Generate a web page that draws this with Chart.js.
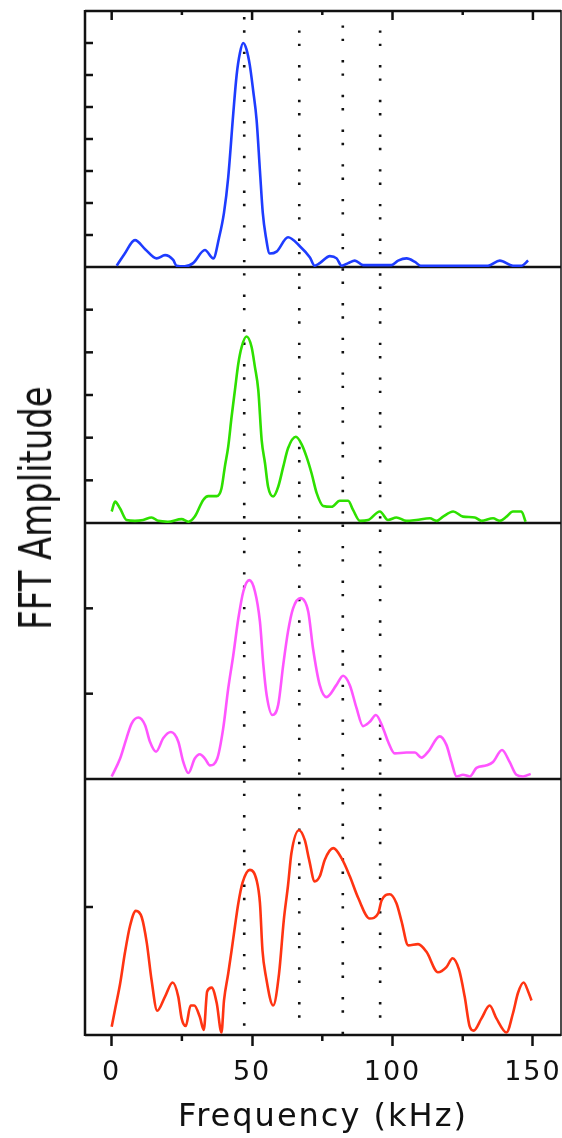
<!DOCTYPE html>
<html>
<head>
<meta charset="utf-8">
<title>FFT Amplitude</title>
<script src="https://cdn.jsdelivr.net/npm/chart.js@4.4.1/dist/chart.umd.min.js"></script>
<style>
body{margin:0;background:#fff}
#wrap{position:relative;width:562px;height:1138px}
#yTitle{position:absolute;left:36px;top:508px;transform:translate(-50%,-50%) rotate(-90deg) scaleX(0.77);font-family:"DejaVu Sans";font-size:44px;line-height:1;color:#111;white-space:nowrap}
</style>
</head>
<body>
<div id="wrap">
<canvas id="fftChart" width="562" height="1138"></canvas>
<div id="yTitle">FFT Amplitude</div>
</div>
<script>
// frequencies in kHz, amplitudes in each panel's own units
const blueFreq=[1.8,4.5,8.3,12,16,19,21.9,23.1,26,29,33.2,36.2,38.2,40,41.5,43.3,44.5,45.7,46.8,48,49.2,50.4,51.6,52.8,53.8,54.8,56.3,58.7,62.8,67,70.6,72.3,74.1,77.7,80.1,81.9,84.2,86.6,89.5,94,99.6,102,105,108,110,116,122,128,134,138.2,142.9,146,148.3]
const blueAmp=[0.04,0.4,0.84,0.55,0.27,0.37,0.22,0.04,0.02,0.12,0.53,0.27,0.9,1.7,2.8,4.8,6.0,6.7,7.0,6.8,6.3,5.5,4.6,3.0,1.7,1.0,0.42,0.48,0.93,0.65,0.3,0.04,0.12,0.34,0.27,0.04,0.12,0.2,0.06,0.06,0.06,0.2,0.27,0.16,0.04,0.04,0.04,0.04,0.04,0.2,0.04,0.04,0.2]

const greenFreq=[0,1.2,3,5.3,8.3,11.2,14.2,16.6,20,24.9,27.3,29.6,32.6,34.4,37.4,39.1,40.3,41.5,42.7,43.9,45.1,46.3,48,49.8,51,52.2,53.4,54.6,55.7,57.5,59.3,61.1,62.8,65.6,67.6,69.4,71.2,73,75.3,78.3,81.2,84.2,86,88.4,91.3,95.5,98.4,101.4,105,108.5,113.3,115.7,118,121.6,125.1,129.3,131.7,135.8,138.2,140.6,142.9,145.9,147.4]
const greenAmp=[0.27,0.5,0.34,0.07,0.05,0.07,0.13,0.05,0.03,0.09,0.03,0.15,0.54,0.63,0.63,0.81,1.32,1.79,2.49,3.12,3.74,4.13,4.37,4.13,3.66,3.12,1.95,1.4,0.85,0.62,0.85,1.32,1.75,2.02,1.85,1.55,1.16,0.7,0.4,0.38,0.52,0.52,0.3,0.05,0.07,0.27,0.07,0.13,0.05,0.07,0.11,0.05,0.15,0.27,0.15,0.13,0.05,0.11,0.05,0.15,0.27,0.27,0.03]

const magentaFreq=[0,3,5.3,7.1,9.5,11.9,13.6,15.8,18.4,21.1,23.7,25.5,27.3,29.6,31.4,33.2,35,37.6,39.7,41.5,43.3,45.1,46.9,49,51,52.8,54,55.2,57.2,59.3,61.1,62.8,64.6,67.3,70,71.7,74.1,76.5,80,82.4,84.8,87.2,89.5,91.9,94.1,96.7,98.4,100.8,105,108,110.3,112.7,116.8,119.2,121,122.8,125.1,127.5,129.9,133.5,135.8,139,141.7,144.1,146.5,149.2]
const magentaAmp=[0.03,0.24,0.48,0.65,0.72,0.63,0.44,0.32,0.48,0.55,0.44,0.2,0.07,0.24,0.29,0.24,0.16,0.24,0.59,1.06,1.45,1.88,2.2,2.33,2.2,1.84,1.34,0.98,0.75,0.87,1.34,1.73,2.0,2.12,1.96,1.53,1.1,0.96,1.1,1.21,1.1,0.83,0.62,0.67,0.75,0.59,0.44,0.3,0.31,0.31,0.25,0.32,0.5,0.4,0.2,0.03,0.05,0.03,0.13,0.16,0.2,0.34,0.2,0.05,0.03,0.06]

const redFreq=[0,1.2,3,4.7,6.5,8.6,10.7,12.5,14.2,16.2,19,21.7,23.7,24.9,26.4,28.1,29.4,31.4,32.8,34,35.6,37.4,39.1,40,41.5,42.7,43.9,45.1,46.6,49.2,51.6,52.8,53.7,54.9,57.5,59.6,61.3,62.8,64,66.7,68.8,70.3,72.3,74.1,75.9,78.9,81.9,84.8,87.8,91.9,94.9,96.1,99,101.4,103.2,105.6,109.1,112.1,116.2,119.2,121.4,123.7,125.7,127.5,128.9,131.7,134.6,137,140.6,142.9,144.7,146.7,148.3,149.5]
const redAmp=[0.065,0.2,0.4,0.64,0.85,0.97,0.92,0.72,0.43,0.19,0.3,0.41,0.3,0.13,0.07,0.23,0.23,0.14,0.04,0.34,0.37,0.25,0.02,0.27,0.48,0.66,0.85,1.03,1.19,1.29,1.21,1.03,0.66,0.46,0.23,0.48,0.9,1.17,1.42,1.6,1.52,1.37,1.2,1.24,1.37,1.46,1.38,1.24,1.07,0.91,0.95,1.05,1.1,1.03,0.89,0.7,0.71,0.65,0.49,0.53,0.6,0.51,0.3,0.065,0.034,0.13,0.23,0.13,0.02,0.17,0.33,0.41,0.34,0.27]

const markerFreqs=[47.2,66.8,82.3,95.6]
const xTickLabels=[0,50,100,150]
const panelMax=[8,6,3,2]

// styles
const panelIds=["y1","y2","y3","y4"]
const lineColors=["#1e3cff","#2ee000","#ff55ff","#ff3412"]
const markerPhase=[4,17.4,12.4,17.4]
const ink="#111"

function pts(f,a){
return f.map((x,i)=>({x:x,y:a[i]}))
}

function seg(ctx,x1,y1,x2,y2){
ctx.beginPath()
ctx.moveTo(x1,y1)
ctx.lineTo(x2,y2)
ctx.stroke()
}

// frame, panel separators and the inward tick marks
const framePlugin={
id:"frame",
beforeDraw(chart){
chart.ctx.letterSpacing="2px"
},
beforeDatasetsDraw(chart){
const ctx=chart.ctx
const a=chart.chartArea
const xs=chart.scales.x
ctx.save()
ctx.strokeStyle=ink
ctx.lineWidth=2.5
panelIds.forEach(id=>{
const s=chart.scales[id]
seg(ctx,a.left,s.top,a.right,s.top)
s.ticks.forEach(t=>{
if(t.value<=s.min||t.value>=s.max) return
const y=s.getPixelForValue(t.value)
seg(ctx,a.left,y,a.left+8,y)
})
})
seg(ctx,a.left,a.bottom,a.right,a.bottom)
seg(ctx,a.left,a.top-1,a.left,a.bottom+1)
ctx.lineWidth=1.5
seg(ctx,a.right,a.top-1,a.right,a.bottom+1)
ctx.lineWidth=2.5
xs.ticks.forEach(t=>{
const x=xs.getPixelForValue(t.value)
const major=xTickLabels.includes(t.value)
seg(ctx,x,a.top,x,a.top+(major?9:4))
if(!major) seg(ctx,x,a.bottom,x,a.bottom+6)
})
ctx.restore()
}
}

const series=[
[blueFreq,blueAmp],
[greenFreq,greenAmp],
[magentaFreq,magentaAmp],
[redFreq,redAmp]
]

const datasets=series.map((s,i)=>({
label:"panel "+(i+1),
data:pts(s[0],s[1]),
yAxisID:panelIds[i],
borderColor:lineColors[i],
borderWidth:2.6,
pointRadius:0,
cubicInterpolationMode:"monotone",
fill:false,
order:0
}))

markerFreqs.forEach((f,i)=>{
datasets.push({
label:"marker "+f,
data:[{x:f,y:0},{x:f,y:1}],
yAxisID:"yRef",
borderColor:"#111",
borderWidth:2.6,
borderDash:[2.4,10.9,2.4,19],
borderDashOffset:markerPhase[i],
pointRadius:0,
fill:false,
order:1
})
})

const scales={
x:{
type:"linear",
position:"bottom",
min:-9.5,
max:160,
border:{display:false},
grid:{
drawOnChartArea:false,
tickLength:11,
tickWidth:2.5,
tickColor:c=>(c.tick&&xTickLabels.includes(c.tick.value))?ink:"rgba(0,0,0,0)"
},
ticks:{
stepSize:25,
includeBounds:false,
autoSkip:false,
maxRotation:0,
padding:11,
color:ink,
font:{family:"DejaVu Sans",size:27},
callback:v=>xTickLabels.includes(v)?String(v):""
},
title:{
display:true,
text:"Frequency (kHz)",
color:ink,
font:{family:"DejaVu Sans",size:32},
padding:{top:0,bottom:1}
},
afterFit(s){
s.height=103
s.paddingLeft=0
s.paddingRight=0
}
},
yRef:{type:"linear",position:"left",display:false,min:0,max:1}
}

panelIds.forEach((id,i)=>{
scales[id]={
type:"linear",
position:"left",
display:false,
stack:"fft",
stackWeight:1,
weight:4-i,
min:0,
max:panelMax[i],
ticks:{stepSize:1}
}
})

const chart=new Chart(document.getElementById("fftChart"),{
type:"line",
data:{datasets:datasets},
options:{
responsive:false,
animation:false,
devicePixelRatio:1,
events:[],
layout:{padding:{left:85,top:11,right:1,bottom:0}},
plugins:{
legend:{display:false},
tooltip:{enabled:false}
},
scales:scales
},
plugins:[framePlugin]
})
</script>
</body>
</html>
